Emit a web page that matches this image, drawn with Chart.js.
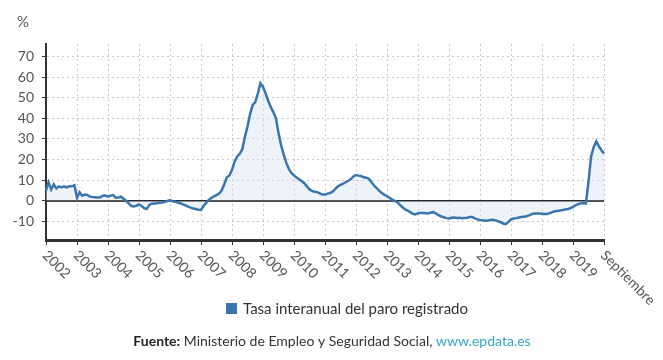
<!DOCTYPE html>
<html>
<head>
<meta charset="utf-8">
<script src="https://cdn.jsdelivr.net/npm/chart.js@4.4.1/dist/chart.umd.min.js"></script>
<style>
  html, body { margin: 0; padding: 0; background: #fff; }
  #wrap { position: relative; width: 663px; height: 360px; }
</style>
</head>
<body>
<div id="wrap"><canvas id="grafico" width="663" height="360"></canvas></div>
<script>
// etiquetas del eje X (una cada 12 meses) y del eje Y
const tickLabels = ['2002', '2003', '2004', '2005', '2006', '2007', '2008', '2009', '2010',
    '2011', '2012', '2013', '2014', '2015', '2016', '2017', '2018', '2019', 'Septiembre'];
const yTicks = [-10, 0, 10, 20, 30, 40, 50, 60, 70];
const serieNombre = 'Tasa interanual del paro registrado';

// valores mensuales (%)
const tasa = [
    5, 9, 5.5, 8, 6, 7, 6.5, 7, 6.5, 7, 7, 7.5,
    1.5, 4.2, 2.5, 3, 2.8, 2, 1.8, 1.7, 1.6, 1.7, 2.5, 2.6,
    2, 2.5, 2.8, 1.5, 1.6, 2, 1, 0, -1.3, -2.5, -2.7, -2.4,
    -1.8, -2.5, -3.6, -4, -2, -1.4, -1.3, -1.2, -1, -0.8, -0.5, -0.1,
    0.3, -0.3, -0.5, -0.8, -1.2, -1.7, -2.2, -2.8, -3.3, -3.7, -4, -4.3,
    -4.4, -2.5, -1, 0.4, 1.4, 2.2, 2.8, 3.5, 5, 8, 11.4, 12.3,
    15, 19, 21.5, 22.8, 25, 31, 36, 42, 46.5, 47.8, 52, 57,
    55.2, 52, 48.5, 45.5, 43, 40, 33, 27, 22.5, 18.5, 15.5, 13.5,
    12.3, 11.3, 10.4, 9.5, 8.5, 7, 5.5, 4.8, 4.4, 4.2, 3.6, 3,
    3, 3.5, 3.8, 4.5, 5.8, 7, 7.7, 8.3, 9, 9.7, 10.5, 11.8,
    12.5, 12.2, 12, 11.4, 11.2, 10.7, 9, 7.4, 6.2, 4.8, 3.8, 2.9,
    2.2, 1.5, 0.6, 0, -0.7, -2, -3.1, -4.2, -4.8, -5.5, -6.3, -6.6,
    -6, -5.9, -5.9, -6, -6.1, -5.7, -5.5, -6.2, -7, -7.6, -8, -8.4,
    -8.6, -8.2, -8.1, -8.3, -8.2, -8.4, -8.3, -8.2, -7.9, -7.9, -8.5, -9,
    -9.3, -9.4, -9.7, -9.5, -9.3, -9.2, -9.5, -9.9, -10.4, -11, -11.3, -10.2,
    -9, -8.6, -8.4, -8.1, -7.9, -7.7, -7.5, -7.1, -6.5, -6.1, -6.1, -6.2,
    -6.3, -6.4, -6.4, -6, -5.5, -5.1, -4.9, -4.7, -4.5, -4.2, -4, -3.6,
    -3, -2.2, -1.6, -1.3, -1.1, -1.3, 9.3, 21.5, 26, 28.8, 26.5, 24.5,
    23
];

const categories = tasa.map((_, i) => (i % 12 === 0 ? tickLabels[i / 12] : ''));

const AZUL = '#3a76ad';
const FUENTE = 'Lato, "Open Sans", sans-serif';

const extras = {
    id: 'extras',
    beforeDatasetsDraw(chart) {
        // linea del cero
        const { ctx, chartArea, scales } = chart;
        const y0 = scales.y.getPixelForValue(0);
        ctx.save();
        ctx.strokeStyle = '#111';
        ctx.lineWidth = 1.8;
        ctx.beginPath();
        ctx.moveTo(chartArea.left, y0);
        ctx.lineTo(chartArea.right, y0);
        ctx.stroke();
        ctx.restore();
    },
    afterDraw(chart) {
        const { ctx, chartArea, scales } = chart;
        ctx.save();
        // unidad
        ctx.fillStyle = '#555';
        ctx.font = '15px ' + FUENTE;
        ctx.textAlign = 'left';
        ctx.textBaseline = 'middle';
        ctx.fillText('%', 17, 22);

        // etiquetas giradas del eje X
        ctx.font = '14px ' + FUENTE;
        ctx.fillStyle = '#555';
        categories.forEach((lab, i) => {
            if (!lab) return;
            const x = scales.x.getPixelForValue(i);
            ctx.save();
            ctx.translate(x - 1, chartArea.bottom + 13);
            ctx.rotate(Math.PI / 4);
            ctx.fillText(lab, 0, 0);
            ctx.restore();
        });

        // leyenda
        ctx.font = '15px ' + FUENTE;
        const w = ctx.measureText(serieNombre).width;
        const total = 11 + 6 + w;
        const lx = 347 - total / 2;
        ctx.fillStyle = AZUL;
        ctx.fillRect(lx, 303, 11, 11);
        ctx.fillStyle = '#333';
        ctx.fillText(serieNombre, lx + 17, 309);

        // fuente
        const partes = [
            { t: 'Fuente:', f: 'bold 14px ' + FUENTE, c: '#222' },
            { t: ' Ministerio de Empleo y Seguridad Social, ', f: '14px ' + FUENTE, c: '#333' },
            { t: 'www.epdata.es', f: '14px ' + FUENTE, c: '#36a6cc' }
        ];
        let ancho = 0;
        partes.forEach(p => { ctx.font = p.f; p.w = ctx.measureText(p.t).width; ancho += p.w; });
        let fx = 332 - ancho / 2;
        partes.forEach(p => {
            ctx.font = p.f;
            ctx.fillStyle = p.c;
            ctx.fillText(p.t, fx, 341);
            fx += p.w;
        });
        ctx.restore();
    }
};

const ctx = document.getElementById('grafico').getContext('2d');
window.chart = new Chart(ctx, {
    type: 'line',
    data: {
        labels: categories,
        datasets: [{
            label: serieNombre,
            data: tasa,
            borderColor: AZUL,
            borderWidth: 2.5,
            backgroundColor: 'rgba(214, 228, 242, 0.45)',
            fill: 'origin',
            pointRadius: 0,
            tension: 0
        }]
    },
    options: {
        responsive: false,
        animation: false,
        layout: { padding: { top: 44, right: 59, bottom: 120, left: 0 } },
        plugins: {
            legend: { display: false },
            tooltip: { enabled: false }
        },
        scales: {
            x: {
                offset: false,
                afterFit(scale) { scale.height = 0; },
                ticks: { display: false, autoSkip: false },
                grid: {
                    color: c => (c.index % 12 === 0 ? '#c8c8c8' : 'transparent'),
                    tickColor: c => (c.index % 12 === 0 ? '#333' : 'transparent'),
                    tickLength: 5,
                    drawTicks: true
                },
                border: { display: true, color: '#333', width: 3, dash: [2, 3] }
            },
            y: {
                min: -19,
                max: 76,
                afterFit(scale) { scale.width = 46; },
                afterBuildTicks(scale) { scale.ticks = yTicks.map(v => ({ value: v })); },
                ticks: {
                    color: '#555',
                    font: { family: FUENTE, size: 14 },
                    padding: 8
                },
                grid: {
                    color: '#c8c8c8',
                    tickColor: '#333',
                    tickLength: 4
                },
                border: { display: true, color: '#333', width: 2, dash: [2, 3] }
            }
        }
    },
    plugins: [extras]
});
</script>
</body>
</html>
